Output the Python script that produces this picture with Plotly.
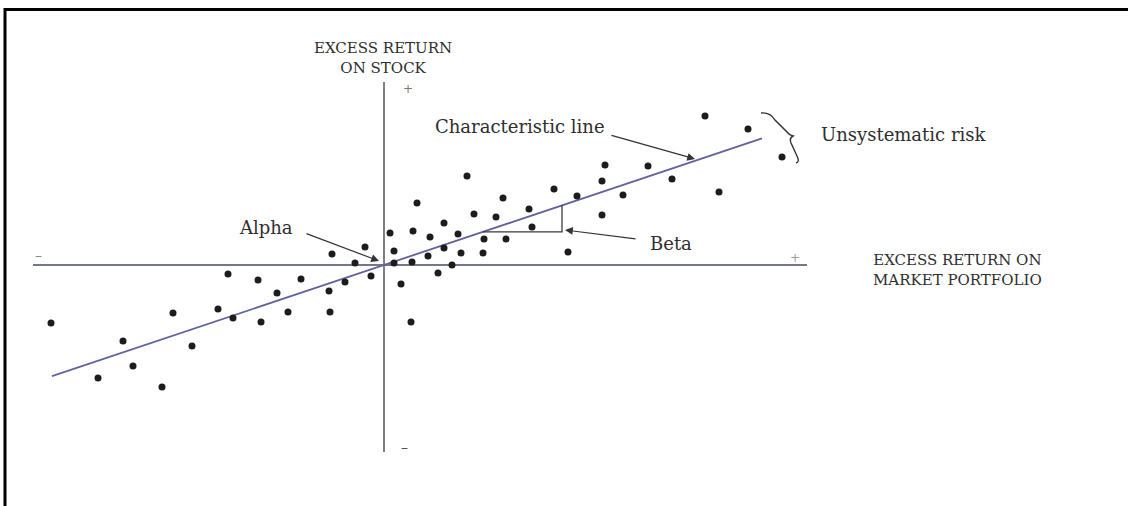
import plotly.graph_objects as go

# ---- data (excess returns; market on x, stock on y) ----
market_excess = [-33.3, -28.6, -26.1, -25.1, -22.2, -21.1, -19.2, -16.6, -15.6, -15.1,
                 -12.6, -12.3, -10.7, -9.6, -8.3, -5.5, -5.4, -5.2, -3.9, -2.9,
                 -1.9, -1.3, 0.6, 1.0, 1.0, 1.7, 2.7, 2.9, 2.8, 3.3,
                 4.4, 4.6, 5.4, 6.0, 6.0, 6.8, 7.4, 7.7, 8.3, 9.0,
                 9.9, 10.0, 11.2, 11.9, 12.2, 14.5, 14.8, 17.0, 18.4, 19.3,
                 21.8, 21.8, 22.1, 23.9, 26.4, 28.8, 32.1, 33.5, 36.4, 39.8]
stock_excess = [-5.8, -11.3, -7.6, -10.1, -12.2, -4.8, -8.1, -4.4, -0.9, -5.3,
                -1.5, -5.7, -2.8, -4.7, -1.4, -2.6, -4.7, 1.1, -1.7, 0.2,
                1.8, -1.1, 3.2, 1.4, 0.2, -1.9, -5.7, 3.4, 0.3, 6.2,
                0.9, 2.8, -0.8, 4.2, 1.7, 0.0, 3.1, 1.2, 8.9, 5.1,
                1.2, 2.6, 4.8, 6.7, 2.6, 5.6, 3.8, 7.6, 1.3, 6.9,
                5.0, 8.4, 10.0, 7.0, 9.9, 8.6, 14.9, 7.3, 13.6, 10.8]
alpha = 0.0
beta = 0.335
line_x = [-33.2, 37.8]
beta_run = [9.9, 17.8]

# ---- helpers mapping picture pixels to the axis frame ----
OX, OY, S = 384.0, 265.0, 10.0
def X(px):
    return (px - OX) / S
def Y(py):
    return (OY - py) / S

W, H = 1128, 506
FONT = "DejaVu Serif"
TXT = "#2e2e2e"

fig = go.Figure()

# axes
fig.add_trace(go.Scatter(x=[X(33), X(807)], y=[0, 0], mode="lines",
                         line=dict(color="#74768a", width=1.8), hoverinfo="skip", showlegend=False))
fig.add_trace(go.Scatter(x=[0, 0], y=[Y(82), Y(452)], mode="lines",
                         line=dict(color="#707078", width=1.8), hoverinfo="skip", showlegend=False))

# characteristic line
line_y = [alpha + beta * v for v in line_x]
fig.add_trace(go.Scatter(x=line_x, y=line_y, mode="lines",
                         line=dict(color="#62629f", width=1.8), hoverinfo="skip", showlegend=False))

# beta triangle
bx0, bx1 = beta_run
fig.add_trace(go.Scatter(x=[bx0, bx1, bx1], y=[alpha + beta * bx0, alpha + beta * bx0, alpha + beta * bx1],
                         mode="lines", line=dict(color="#3a3a3a", width=1.3),
                         hoverinfo="skip", showlegend=False))

# points
fig.add_trace(go.Scatter(x=market_excess, y=stock_excess, mode="markers",
                         marker=dict(color="#1c1c1c", size=7), showlegend=False))

ann = []
def text(px, py, s, size=17, color=TXT):
    ann.append(dict(x=X(px), y=Y(py), text=s, showarrow=False,
                    font=dict(family=FONT, size=size, color=color),
                    xanchor="center", yanchor="middle"))

def arrow(tail, head):
    ann.append(dict(x=X(head[0]), y=Y(head[1]), ax=X(tail[0]), ay=Y(tail[1]),
                    xref="x", yref="y", axref="x", ayref="y", text="",
                    showarrow=True, arrowhead=2, arrowsize=1.3, arrowwidth=1.2,
                    arrowcolor="#333333"))

text(383, 58, "EXCESS RETURN<br>ON STOCK", size=15)
text(957, 270, "EXCESS RETURN ON<br>MARKET PORTFOLIO", size=15)
text(520, 126, "Characteristic line", size=18)
text(266, 227, "Alpha", size=18)
text(671, 243, "Beta", size=18)
text(903, 134, "Unsystematic risk", size=18)
text(408, 89, "+", size=12, color="#777777")
text(795, 258, "+", size=12, color="#999999")
text(404, 447, "\u2013", size=14, color="#555555")
text(38, 255, "\u2013", size=14, color="#888888")

arrow((305, 233), (379, 261))
arrow((610, 135), (695, 159))
arrow((637, 239), (565, 230))

# brace for unsystematic risk
brace = (f"M {X(761)},{Y(113)} Q {X(770)},{Y(112)} {X(775)},{Y(120)} "
         f"L {X(786)},{Y(131)} Q {X(789)},{Y(135)} {X(793)},{Y(136)} "
         f"Q {X(789)},{Y(138)} {X(791)},{Y(143)} L {X(797)},{Y(156)} "
         f"Q {X(800)},{Y(162)} {X(796)},{Y(163)}")
shapes = [
    dict(type="path", path=brace, xref="x", yref="y", line=dict(color="#333333", width=1.4)),
    dict(type="rect", xref="paper", yref="paper", x0=5 / W, x1=1.02, y0=-0.02, y1=1 - 9.5 / H,
         line=dict(color="#000000", width=3)),
]

fig.update_layout(
    width=W, height=H, margin=dict(l=0, r=0, t=0, b=0),
    paper_bgcolor="white", plot_bgcolor="white",
    xaxis=dict(range=[X(0), X(W)], visible=False, fixedrange=True),
    yaxis=dict(range=[Y(H), Y(0)], visible=False, fixedrange=True),
    annotations=ann, shapes=shapes, showlegend=False,
)

fig.write_html("out.html", config={"displayModeBar": False},
               post_script="document.body.style.margin='0';document.body.style.overflow='hidden';")
